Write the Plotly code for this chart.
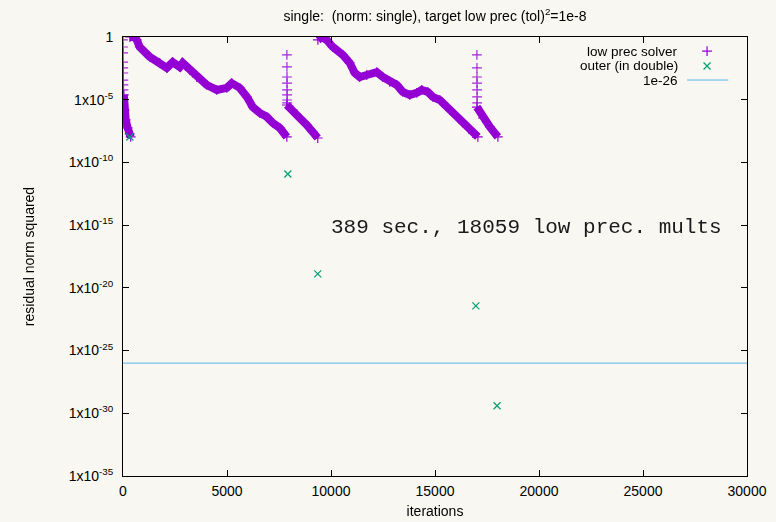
import plotly.graph_objects as go

# ---------------- data ----------------
# low-precision solver: dense bands (iteration, residual norm squared)
band_a_it = [40, 80, 130, 225, 320, 370]
band_a_r = [2.4e-5, 1.5e-6, 2.5e-7, 5.6e-8, 1.9e-8, 1.07e-8]

band_b_it = [330, 563, 660, 804, 1285, 1766, 2103, 2392, 2728, 2873, 3209, 3546,
             4028, 4509, 4990, 5231, 5616, 5953, 6241, 6578, 6915, 7204, 7540, 7877]
band_b_r = [1.0, 1.0, 0.58, 0.16, 2.6e-2, 8.5e-3, 3.4e-3, 1.0e-2, 4.1e-3, 8.5e-3,
            2.3e-3, 6.5e-4, 1.5e-4, 6.0e-5, 8.7e-5, 2.1e-4, 8.7e-5, 1.7e-5,
            2.6e-6, 8.7e-7, 4.3e-7, 1.4e-7, 5.6e-8, 1.07e-8]

band_c_it = [7877, 8161, 8498, 8834, 9122, 9363]
band_c_r = [3.8e-6, 1.5e-6, 3.5e-7, 9.8e-8, 2.7e-8, 8.9e-9]

band_d_it = [9370, 9555, 9795, 10084, 10565, 10902, 11142, 11383, 11720, 12201,
             12490, 12827, 13163, 13452, 13789, 14126, 14366, 14655, 14896, 15233,
             15569, 15714, 16340, 16821, 17061]
band_d_r = [0.58, 1.0, 0.58, 0.16, 3.7e-2, 8.5e-3, 1.35e-3, 6.5e-4, 9.3e-4, 1.6e-3,
            6.5e-4, 2.6e-4, 1.5e-4, 4.2e-5, 2.4e-5, 3.5e-5, 6.0e-5, 4.2e-5,
            1.7e-5, 9.5e-6, 2.6e-6, 1.5e-6, 1.4e-7, 2.2e-8, 1.07e-8]

band_e_it = [17013, 17302, 17639, 18024]
band_e_r = [2.6e-6, 3.5e-7, 6.8e-8, 1.07e-8]

# isolated '+' points at the start of each low-precision solve
spike_it = [0, 3, 6, 9, 12, 15, 18, 21, 24,
            7880, 7882, 7884, 7886, 7888, 7890, 7892, 7894,
            17015, 17017, 17019, 17021, 17023, 17025, 17027]
spike_r = [0.58, 0.16, 5.4e-2, 1.0e-2, 3.4e-3, 1.35e-3, 3.7e-4, 1.5e-4, 6.0e-5,
           3.7e-2, 4.1e-3, 6.5e-4, 2.1e-4, 6.0e-5, 2.4e-5, 9.5e-6, 5.5e-6,
           3.7e-2, 3.4e-3, 6.5e-4, 2.1e-4, 6.0e-5, 1.7e-5, 5.5e-6]

# outer (double precision) residuals
outer_it = [330, 7925, 9363, 16965, 17983]
outer_r = [1.07e-8, 1.2e-11, 1.3e-19, 3.7e-22, 4.0e-30]

# reference level
level = 1e-26
x_range = [0, 30000]

x_tick_vals = [0, 5000, 10000, 15000, 20000, 25000, 30000]
x_tick_text = ["0", "5000", "10000", "15000", "20000", "25000", "30000"]
y_tick_vals = [1, 1e-5, 1e-10, 1e-15, 1e-20, 1e-25, 1e-30, 1e-35]
y_tick_text = ["1", "1x10<sup>-5</sup>", "1x10<sup>-10</sup>", "1x10<sup>-15</sup>",
               "1x10<sup>-20</sup>", "1x10<sup>-25</sup>", "1x10<sup>-30</sup>",
               "1x10<sup>-35</sup>"]

PURPLE = "#9400d3"
GREEN = "#009e73"
BLUE = "#56b4e9"
BG = "#f8f7f1"
FONT = "Liberation Sans, Arial, sans-serif"

fig = go.Figure()

for its, rs in [(band_a_it, band_a_r), (band_b_it, band_b_r), (band_c_it, band_c_r),
                (band_d_it, band_d_r), (band_e_it, band_e_r)]:
    fig.add_trace(go.Scatter(
        x=its, y=rs, mode="lines+markers",
        line=dict(color=PURPLE, width=8),
        marker=dict(symbol="cross-thin", size=7, line=dict(color=PURPLE, width=1.2)),
        showlegend=False, hoverinfo="skip"))

fig.add_trace(go.Scatter(
    x=spike_it, y=spike_r, mode="markers",
    marker=dict(symbol="cross-thin", size=7, color=PURPLE, line=dict(color=PURPLE, width=1.2)),
    opacity=0.85, showlegend=False))

fig.add_trace(go.Scatter(
    x=x_range, y=[level, level], mode="lines",
    line=dict(color=BLUE, width=1), showlegend=False))

fig.add_trace(go.Scatter(
    x=outer_it, y=outer_r, mode="markers",
    marker=dict(symbol="x-thin", size=7, color=GREEN, line=dict(color=GREEN, width=1.2)),
    showlegend=False))

# ---- custom gnuplot-style key (text right, sample left) on overlay axes ----
key_labels = ["low prec solver", "outer (in double)", "1e-26"]
key_y = [0.968, 0.934, 0.902]
fig.add_trace(go.Scatter(
    x=[0.936], y=[key_y[0]], xaxis="x2", yaxis="y2", mode="markers",
    marker=dict(symbol="cross-thin", size=7, line=dict(color=PURPLE, width=1.2)),
    showlegend=False, hoverinfo="skip"))
fig.add_trace(go.Scatter(
    x=[0.936], y=[key_y[1]], xaxis="x2", yaxis="y2", mode="markers",
    marker=dict(symbol="x-thin", size=7, line=dict(color=GREEN, width=1.2)),
    showlegend=False, hoverinfo="skip"))
fig.add_trace(go.Scatter(
    x=[0.904, 0.970], y=[key_y[2], key_y[2]], xaxis="x2", yaxis="y2", mode="lines",
    line=dict(color=BLUE, width=1), showlegend=False, hoverinfo="skip"))
for lab, yy in zip(key_labels, key_y):
    fig.add_annotation(x=0.893, y=yy, xref="x2", yref="y2", text=lab,
                       showarrow=False, xanchor="right", yanchor="middle",
                       font=dict(family=FONT, size=13.5, color="#000000"))

fig.add_annotation(x=0.646, y=0.565, xref="x2", yref="y2",
                   text="389 sec., 18059 low prec. mults", showarrow=False,
                   xanchor="center", yanchor="middle",
                   font=dict(family="Liberation Mono, Courier New, monospace",
                             size=21, color="#1a1a1a"))

axis_common = dict(showline=True, linecolor="#000000", linewidth=1, mirror="ticks",
                   ticks="inside", ticklen=6, tickcolor="#000000", showgrid=False,
                   zeroline=False, automargin=False,
                   tickfont=dict(family=FONT, size=14, color="#000000"))

fig.update_layout(
    width=776, height=522,
    margin=dict(l=123, r=29, t=37, b=46),
    paper_bgcolor=BG, plot_bgcolor=BG,
    title=dict(text="single:  (norm: single), target low prec (tol)<sup>2</sup>=1e-8",
               x=0.5, xref="paper", xanchor="center", y=0.97, yanchor="middle",
               font=dict(family=FONT, size=14, color="#000000")),
    xaxis=dict(range=x_range, tickvals=x_tick_vals, ticktext=x_tick_text,
               ticklabelstandoff=2,
               title=dict(text="iterations", standoff=8,
                          font=dict(family=FONT, size=14, color="#000000")),
               **axis_common),
    yaxis=dict(type="log", range=[-35, 0], tickvals=y_tick_vals, ticktext=y_tick_text,
               ticklabelstandoff=6,
               title=dict(text="residual norm squared", standoff=30,
                          font=dict(family=FONT, size=14, color="#000000")),
               **axis_common),
    xaxis2=dict(overlaying="x", range=[0, 1], visible=False, fixedrange=True),
    yaxis2=dict(overlaying="y", range=[0, 1], visible=False, fixedrange=True),
    showlegend=False,
)

fig.write_html("out.html")
